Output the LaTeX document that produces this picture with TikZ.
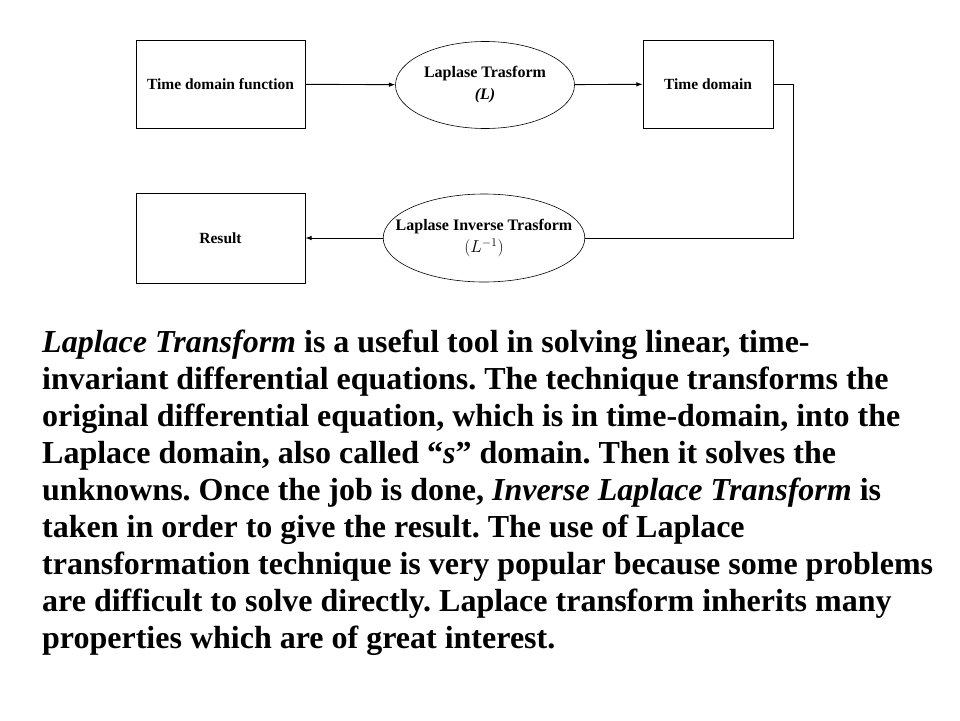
\documentclass[tikz,border=0pt]{standalone}
\usepackage{fontspec}
\setmainfont{Liberation Serif}
\usetikzlibrary{arrows.meta, positioning, shapes.geometric}
\frenchspacing

\begin{document}
\begin{tikzpicture}[
    x=1pt, y=-1pt,
    >={Latex[length=2.2mm, width=1.6mm]}, % small filled tips
    block/.style={draw, line width=0.8pt, inner sep=2pt, minimum height=88pt,
        font=\bfseries\fontsize{15.5}{18}\selectfont},
    process/.style={draw, ellipse, line width=0.6pt, inner sep=0pt, align=center,
        font=\bfseries\fontsize{16}{22}\selectfont},
    link/.style={->, line width=0.9pt},
    wire/.style={line width=0.9pt}
]
    \useasboundingbox (0,0) rectangle (960,720);

    % === Top row ===
    \node[block, minimum width=169pt] (tdf) at (220.5,84) {Time domain function};
    \node[process, minimum width=179pt, minimum height=87pt] (lt) at (485,85)
        {Laplase Trasform\\ \textit{(L)}};
    \node[block, minimum width=130pt] (td) at (708,84) {Time domain};

    % === Bottom row ===
    \node[block, minimum width=169pt, minimum height=90pt] (res) at (220.5,238) {Result};
    % negative xsep keeps the ellipse tight round the long label
    \node[process, inner xsep=-17pt, minimum width=197pt, minimum height=88pt] (lit) at (484,238)
        {Laplase Inverse Trasform\\ {\mdseries\fontsize{17}{20}\selectfont$(L^{-1})$}};

    % === Connectors ===
    \coordinate (bend) at (793,238);
    \draw[link] (tdf) -- (lt);
    \draw[link] (lt) -- (td);
    \draw[wire] (td.east) -| (bend) -- (lit.east);
    \draw[link] (lit) -- (res);

    % === Description ===
    \node[anchor=north west, inner sep=0pt, align=left,
        font=\bfseries\fontsize{32}{37}\selectfont] (desc) at (42,330)
        {\textit{Laplace Transform} is a useful tool in solving linear, time-\\
         invariant differential equations. The technique transforms the\\
         original differential equation, which is in time-domain, into the\\
         Laplace domain, also called “\textit{s}” domain. Then it solves the\\
         unknowns. Once the job is done, \textit{Inverse Laplace Transform} is\\
         taken in order to give the result. The use of Laplace\\
         transformation technique is very popular because some problems\\
         are difficult to solve directly. Laplace transform inherits many\\
         properties which are of great interest.};

\end{tikzpicture}
\end{document}
